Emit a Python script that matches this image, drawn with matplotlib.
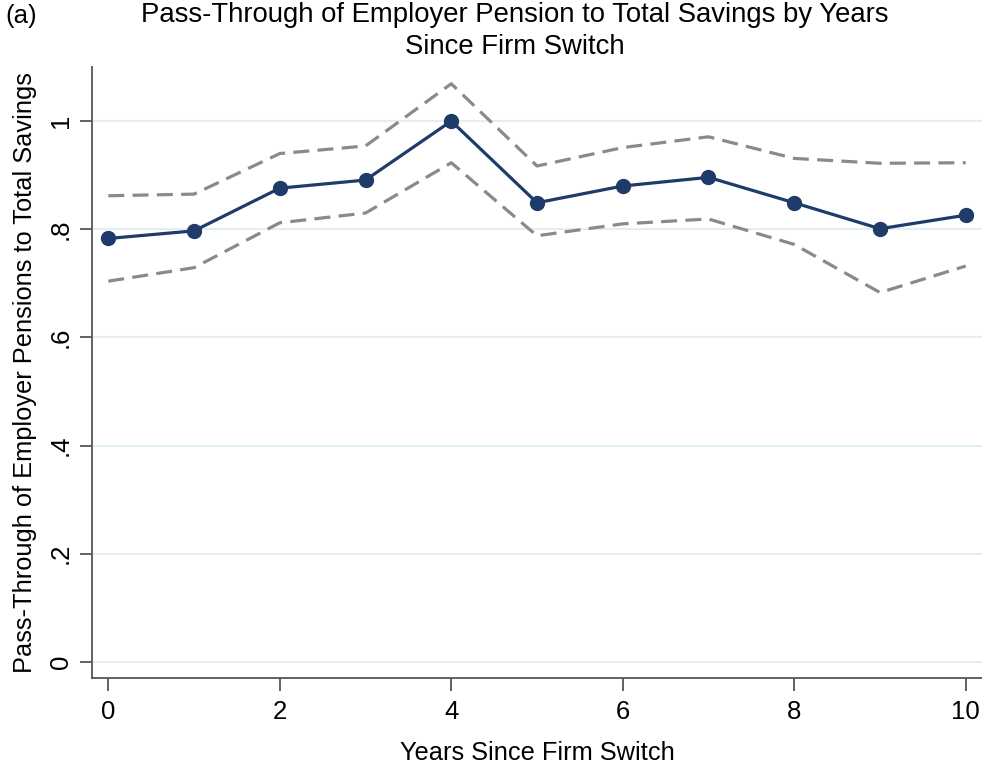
import matplotlib
matplotlib.use("Agg")
import matplotlib.pyplot as plt

plt.rcParams['font.family'] = ['Liberation Sans', 'DejaVu Sans']

years = [0, 1, 2, 3, 4, 5, 6, 7, 8, 9, 10]
estimate = [0.783, 0.797, 0.876, 0.891, 1.000, 0.849, 0.880, 0.896, 0.849, 0.801, 0.826]
upper_ci = [0.862, 0.865, 0.940, 0.954, 1.069, 0.917, 0.951, 0.971, 0.931, 0.922, 0.923]
lower_ci = [0.704, 0.729, 0.812, 0.830, 0.923, 0.788, 0.810, 0.819, 0.772, 0.683, 0.732]
x_ticks = [0, 2, 4, 6, 8, 10]
y_ticks = [0, 0.2, 0.4, 0.6, 0.8, 1.0]
y_tick_labels = ['0', '.2', '.4', '.6', '.8', '1']

fig = plt.figure(figsize=(9.82, 7.68), dpi=100)
ax = fig.add_axes([92/982, 1 - 678/768, (982 - 92)/982, (678 - 67)/768])

navy = '#1f3b6a'
grey = '#8a8a8a'
ax.plot(years, upper_ci, color=grey, lw=2.3, ls=(0, (5, 2.6)), zorder=2)
ax.plot(years, lower_ci, color=grey, lw=2.3, ls=(0, (5, 2.6)), zorder=2)
ax.plot(years, estimate, color=navy, lw=2.3, marker='o', ms=10, zorder=3)

ax.set_xlim(-0.19, 10.19)
ax.set_ylim(-0.0296, 1.1)
ax.set_xticks(x_ticks)
ax.set_yticks(y_ticks)
ax.set_yticklabels(y_tick_labels, rotation=90, va='center')
for s in ['top', 'right']:
    ax.spines[s].set_visible(False)
for s in ['left', 'bottom']:
    ax.spines[s].set_color('#555555')
    ax.spines[s].set_linewidth(1.3)
ax.tick_params(axis='both', colors='#555555', labelcolor='black', labelsize=18.5, width=1.3)
ax.tick_params(axis='y', length=9, pad=5)
ax.tick_params(axis='x', length=9, pad=7)
ax.grid(axis='y', color='#e3eef2', lw=1.5)
ax.set_axisbelow(True)

ax.set_xlabel('Years Since Firm Switch', fontsize=18.3, labelpad=12)
ax.set_ylabel('Pass-Through of Employer Pensions to Total Savings', fontsize=18.3, labelpad=8)

fig.text(515/982, 1 - 31/768, 'Pass-Through of Employer Pension to Total Savings by Years\nSince Firm Switch',
         ha='center', va='center', fontsize=19.8, linespacing=1.3)
fig.text(5/982, 1 - 16/768, '(a)', ha='left', va='center', fontsize=18.5)

fig.savefig('out.png', dpi=100)
